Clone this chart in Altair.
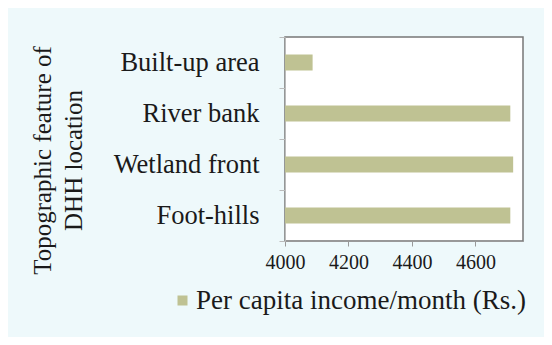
import altair as alt
import pandas as pd

categories = ["Built-up area", "River bank", "Wetland front", "Foot-hills"]
values = [4087, 4710, 4719, 4710]
series_name = "Per capita income/month (Rs.)"
x_ticks = [4000, 4200, 4400, 4600]
x_domain = [4000, 4750]
x_base = 4000
axis_title = ["Topographic feature of", "DHH location"]

df = pd.DataFrame({"cat": categories, "val": values, "series": [series_name] * len(categories)})

FONT = "Liberation Serif"
BAR = "#bfc293"

chart = alt.Chart(df).mark_bar(size=16, color=BAR).encode(
    y=alt.Y("cat:N", sort=categories,
            scale=alt.Scale(paddingInner=0, paddingOuter=0),
            axis=alt.Axis(title=axis_title, labelFont=FONT, labelFontSize=26.5, labelColor="#1a1a1a",
                          labelPadding=20, tickSize=6, tickColor="#bbbbbb", domainColor="#bbbbbb",
                          tickBand="extent",
                          titleFont=FONT, titleFontSize=25, titleFontWeight="normal", titleColor="#1a1a1a",
                          titleAngle=-90, titleAlign="center", titleBaseline="alphabetic",
                          titleX=-235, titleY=123, titleLineHeight=31)),
    x=alt.X("val:Q", scale=alt.Scale(domain=x_domain, nice=False, zero=False),
            axis=alt.Axis(title=None, values=x_ticks, format="d", labelOverlap=False, labelFlush=False,
                          labelFont=FONT, labelFontSize=20, labelColor="#1a1a1a",
                          grid=False, tickSize=5, labelPadding=6, tickColor="#999999", domainColor="#999999")),
    x2=alt.X2(datum=x_base),
    color=alt.Color("series:N", scale=alt.Scale(range=[BAR]),
                    legend=alt.Legend(title=None, orient="none", legendX=-116, legendY=250,
                                      symbolType="square", symbolSize=100, symbolStrokeWidth=0,
                                      labelFont=FONT, labelFontSize=27, labelColor="#1a1a1a",
                                      labelOffset=0, labelLimit=0, padding=0)),
).properties(
    width=238, height=204,
    background="#eef9fb",
    padding={"left": 277, "top": 29, "right": 21, "bottom": 96},
    autosize=alt.AutoSizeParams(type="none"),
).configure_view(
    fill="white", stroke="#777777", strokeWidth=1.5
)

chart.save("out.html", embed_options={"renderer": "svg", "actions": False})
